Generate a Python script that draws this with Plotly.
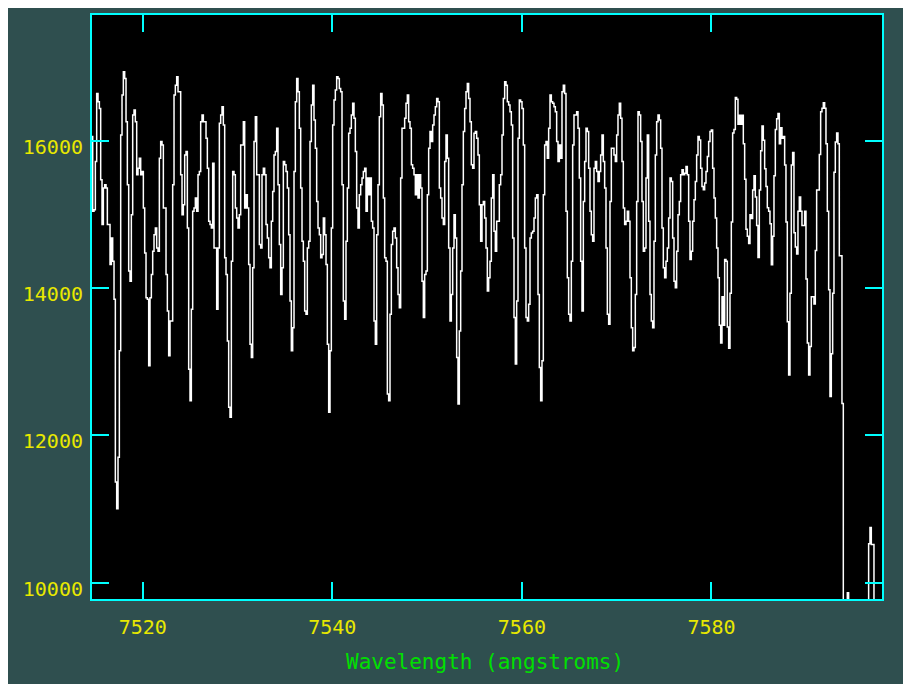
import plotly.graph_objects as go

# Spectrum sampled on a uniform wavelength grid (angstroms)
wave_start = 7514.652
wave_step = 0.14065

flux_a = [16054, 15040, 15062, 15716, 16640, 16527, 16437, 15468, 14860, 15355,
          15400, 15355, 14860, 14860, 14319, 14679, 14364, 13846, 11367, 11006,
          11705, 13147, 16076, 16617, 16933, 16843, 16257, 15400, 14229, 14093,
          14995, 16347, 16415, 16257, 15536, 15626, 15761, 15536, 15581, 15085,
          14476, 13868, 13846, 12944, 13868, 14184, 14499, 14724, 14814, 14544,
          14499, 15761, 15986, 15941, 15085, 15085, 14184, 13688, 13079, 13553,
          13553, 15400, 16617, 16752, 16865, 16662, 16662, 15536, 14995, 15130,
          15806, 15851, 14814, 12899, 12471, 13710, 15040, 15085, 15220, 15040,
          15536, 15581, 16257, 16347, 16257, 16257, 16031, 15626, 14905, 14860,
          14814, 15693, 14544, 14544, 13710, 14544, 16234, 16347, 16460, 16212,
          14409, 14184, 13282, 12381, 12245, 14364, 15581, 15536, 15085, 14950,
          14814, 14995, 15941, 15941, 16257, 15085, 15265, 15085, 14319, 13237,
          13057, 14274, 15986, 16324, 15536, 15536, 14589, 14544, 15536, 15626,
          15536, 14860, 14679, 14409, 14274, 14905, 15310, 15806, 15851, 16167,
          15400, 14589, 13913, 14274, 15716, 15671, 15581, 15355, 14724, 13823,
          13147, 13462, 15581, 16527, 16843, 16662, 16167, 15355, 14634, 14364,
          13688, 13643, 14544]

flux_b = [14634, 15986, 16482, 16752, 16279, 15896, 15175, 14814, 14724, 14409,
          14454, 14950, 14724, 14319, 13237, 12313, 13147, 14814, 16212, 16550,
          16685, 16865, 16843, 16707, 16662, 15400, 13823, 13575, 14634, 15355,
          16099, 16167, 16347, 16505, 16302, 15851, 15085, 14814, 15265, 15400,
          15491, 15581, 15626, 15040, 15491, 15265, 15491, 14905, 14814, 13553,
          13237, 14724, 15400, 16324, 16640, 16482, 15220, 14409, 14364, 12561,
          12471, 13643, 14589, 14769, 14814, 14679, 14274, 13913, 13733, 15491,
          16167, 16167, 16302, 16505, 16617, 16257, 16167, 15671, 15626, 15536,
          15265, 15536, 15220, 15536, 15355, 14093, 13598, 14184, 14229, 15265,
          15896, 16122, 15986, 16212, 16347, 16460, 16572, 16527, 15355, 15220,
          14950, 14860, 15716, 16076, 15761, 14544, 13553, 13913, 14544, 14995,
          14679, 13057, 12426, 13417, 14229, 15400, 16122, 16437, 16662, 16775,
          16572, 16257, 15671, 15626, 16099, 16122, 16031, 15806, 15130, 14634,
          15130, 15175, 14950, 14544, 13958, 14138, 14364, 15220, 15536, 14769,
          14499, 14905, 14905, 15400, 15536, 16076, 16572, 16798, 16752, 16527,
          16482, 16392, 16212, 14679, 13598, 12967, 13823, 16031, 16550, 16527,
          16437, 15941, 14544, 13598, 13553, 13778]

flux_c = [14679, 14747, 14769, 14950, 15220, 15265, 13913, 12922, 12471, 13012,
          15265, 15941, 15986, 15761, 16167, 16617, 16527, 16505, 16460, 16392,
          15986, 15716, 15941, 15761, 16662, 16752, 16640, 15040, 14138, 13643,
          13553, 14364, 15941, 16347, 16347, 16392, 16167, 15491, 14364, 13688,
          15175, 15716, 16167, 16122, 15626, 15040, 14724, 14634, 15626, 15716,
          15581, 15446, 15581, 15806, 16076, 15716, 15355, 14544, 13643, 13508,
          15175, 15896, 15896, 15806, 15716, 16076, 16347, 16505, 16302, 15716,
          15085, 14860, 14905, 15040, 14905, 14138, 13462, 13147, 13192, 13913,
          15175, 16392, 16347, 15986, 15175, 14499, 14544, 15491, 16076, 14905,
          13913, 13553, 13462, 14634, 15806, 16257, 16347, 16279, 15896, 14814,
          14274, 14138, 14364, 14544, 14950, 15491, 15446, 14679, 14093, 14003,
          14499, 14995, 15175, 15536, 15603, 15536, 15558, 15648, 15536, 14905,
          14386, 14499, 14905, 15198, 15446, 15806, 16054, 16009, 15626, 15378,
          15333, 15423, 15581, 15783, 15986, 16122, 16144, 15626, 15220, 14950,
          14544, 14138]

flux_d = [13495, 13253, 13881, 13495, 14388, 14364, 13470, 13181, 13929, 14895,
          16102, 16151, 16585, 16561, 16223, 16344, 16223, 16344, 15957, 15474,
          14798, 14702, 14605, 14992, 14943, 15330, 15523, 15233, 14847, 14412,
          15330, 15861, 16199, 16006, 15619, 15378, 15088, 15040, 14871, 14315,
          14702, 15523, 16151, 16295, 16368, 15957, 16175, 16030, 16054, 15668,
          14895, 13543, 12818, 13929, 15668, 15837, 14750, 14557, 14460, 15040,
          15233, 15040, 14847, 14847, 15040, 14122, 13253, 12818, 13205, 13881,
          13881, 13784, 14509, 15330, 15330, 15812, 16392, 16440, 16513, 16440,
          15957, 15040, 13977, 12529, 13108, 13929, 15571, 15981, 16102, 15957,
          14436, 14436, 12432, 9500, 9500, 9500, 9866, 9500, 9500, 9500,
          9500, 9500, 9500, 9500, 9500, 9500, 9500, 9500, 9500, 9500,
          9500, 9500, 10530, 10750, 10520, 10520, 9500, 9500, 9500, 9500,
          9500, 9500, 9500]

flux = flux_a + flux_b + flux_c + flux_d
wavelength = [wave_start + wave_step * i for i in range(len(flux))]

x_ticks = [7520, 7540, 7560, 7580]
x_labels = ["7520", "7540", "7560", "7580"]
y_ticks = [10000, 12000, 14000, 16000]
y_labels = ["10000", "12000", "14000", "16000"]
x_range = [7514.65, 7597.99]
y_range = [9780, 17704]

SLATE = "#2f4f4f"
CYAN = "#00ffff"
YELLOW = "#e8e800"
GREEN = "#00e000"
MONO = "DejaVu Sans Mono"

fig = go.Figure()
fig.add_trace(go.Scatter(
    x=wavelength, y=flux, mode="lines",
    line=dict(color="white", width=1.5, shape="hvh"),
    hoverinfo="skip", showlegend=False,
))

axis_common = dict(
    showgrid=False, zeroline=False,
    showline=True, linecolor=CYAN, linewidth=2, mirror="ticks",
    ticks="inside", ticklen=17, tickwidth=2, tickcolor=CYAN,
    tickfont=dict(family=MONO, size=20, color=YELLOW),
)

fig.update_xaxes(range=x_range, tickvals=x_ticks, ticktext=x_labels,
                 ticklabelstandoff=9, **axis_common)
fig.update_yaxes(range=y_range, tickvals=y_ticks, ticktext=y_labels,
                 ticklabelstandoff=3, ticklabelshift=6, **axis_common)

fig.add_annotation(
    text="Wavelength (angstroms)", xref="paper", yref="paper",
    x=0.497, y=-0.1075, xanchor="center", yanchor="middle",
    showarrow=False, font=dict(family=MONO, size=21, color=GREEN),
)

fig.update_layout(
    width=911, height=684,
    margin=dict(l=84, r=37, t=5, b=93),
    paper_bgcolor=SLATE, plot_bgcolor="black",
)

fig.write_html("out.html")
